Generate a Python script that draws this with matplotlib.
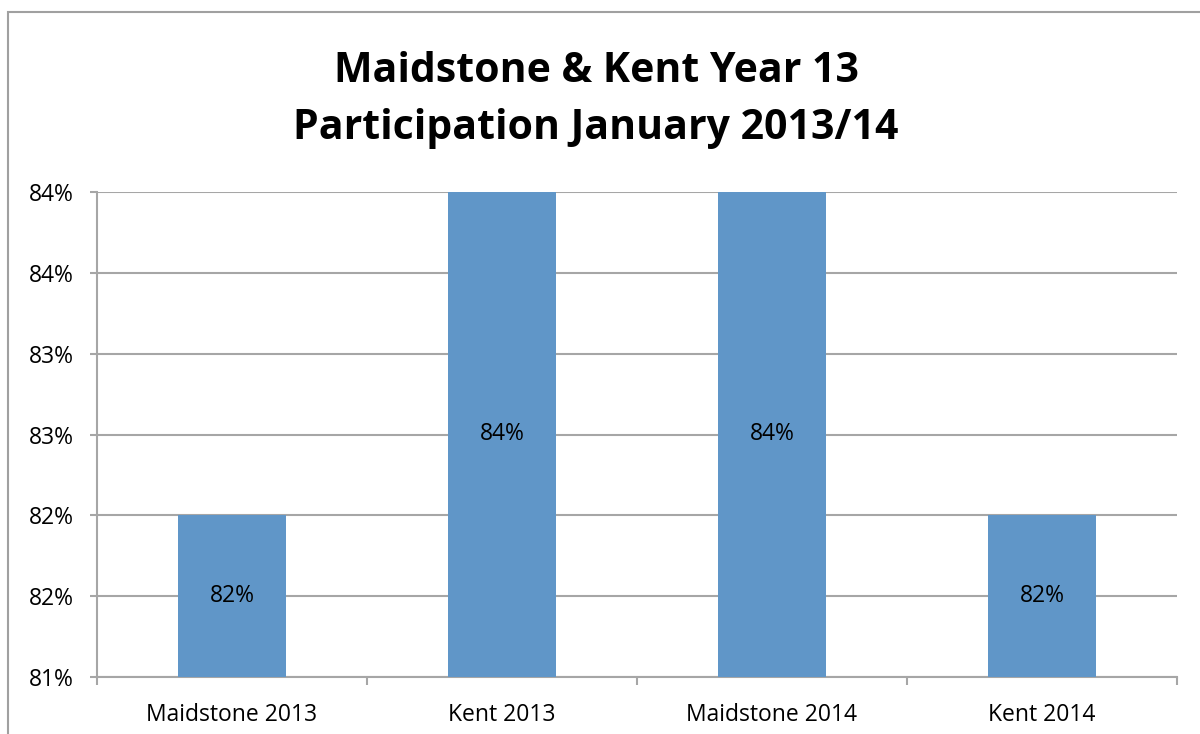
import numpy as np
import matplotlib.pyplot as plt
from matplotlib.patches import Rectangle
from matplotlib.ticker import FixedLocator, FuncFormatter

# ---------------- DATA ----------------
categories = ['Maidstone 2013', 'Kent 2013', 'Maidstone 2014', 'Kent 2014']
participation = [82, 84, 84, 82]
y_ticks = [81, 81.5, 82, 82.5, 83, 83.5, 84]

BAR_COLOR = '#6096C8'
GRID_COLOR = '#A6A6A6'

plt.rcParams['font.family'] = ['Open Sans', 'DejaVu Sans']

fig = plt.figure(figsize=(12, 7.34), dpi=100)

# chart area border
fig.patches.append(Rectangle((8 / 1200, -0.1), 1.2, 1 - 12 / 734 + 0.1,
                             transform=fig.transFigure, fill=False,
                             edgecolor='#A0A0A0', linewidth=1.5))

ax = fig.add_axes([97 / 1200, 1 - 677 / 734, (1177 - 97) / 1200, (677 - 192) / 734])

x = np.arange(len(categories))
bars = ax.bar(x, participation, width=0.4, color=BAR_COLOR, zorder=3)

for xi, v in zip(x, participation):
    ax.text(xi, (81 + v) / 2, f'{v}%', ha='center', va='center',
            fontsize=16.5, color='black', zorder=4)

ax.set_xlim(-0.5, len(categories) - 0.5)
ax.set_ylim(81, 84)
ax.yaxis.set_major_locator(FixedLocator(y_ticks))
ax.yaxis.set_major_formatter(FuncFormatter(lambda v, p: f'{int(np.floor(v + 0.5))}%'))
ax.grid(axis='y', color=GRID_COLOR, linewidth=1.5, zorder=0)

ax.set_xticks(x)
ax.set_xticklabels(categories, fontsize=16.5)
ax.tick_params(axis='x', length=0, pad=19)
ax.tick_params(axis='y', labelsize=16.5, length=5, width=1.5, color=GRID_COLOR, pad=12)

# category boundary ticks below the x axis
ax.set_xticks(np.arange(-0.5, len(categories)), minor=True)
ax.tick_params(axis='x', which='minor', length=6, width=1.5, color=GRID_COLOR)

for side in ['top', 'right']:
    ax.spines[side].set_visible(False)
ax.spines['left'].set_color(GRID_COLOR)
ax.spines['left'].set_linewidth(1.5)
ax.spines['bottom'].set_color(GRID_COLOR)
ax.spines['bottom'].set_linewidth(1.5)

fig.text(596 / 1200, 1 - 100 / 734, 'Maidstone & Kent Year 13\nParticipation January 2013/14',
         ha='center', va='center', fontsize=29.5, fontweight='bold', linespacing=1.5)

fig.savefig('out.png', dpi=100)
